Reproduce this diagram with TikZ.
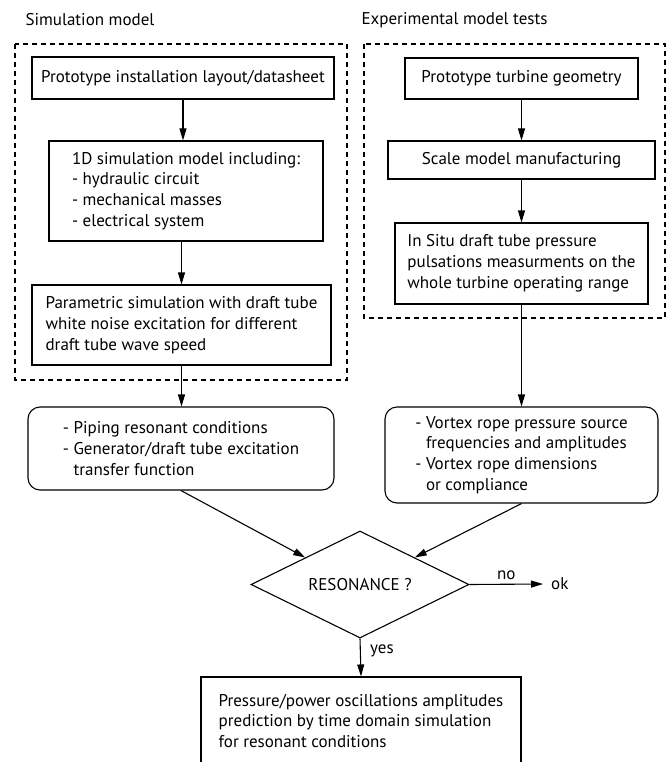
\documentclass[tikz,border=0pt]{standalone}
\usepackage{fontspec}
\setmainfont{PT Sans}
\usetikzlibrary{shapes.geometric,arrows.meta}
\begin{document}
\begin{tikzpicture}[x=1pt,y=-1pt,
  font=\fontsize{17}{20.8}\selectfont,
  box/.style={draw, line width=1.1pt, align=left, inner sep=0pt},
  rbox/.style={box, rounded corners=12pt},
  group/.style={draw, line width=1.1pt, dash pattern=on 5pt off 4pt},
  arr/.style={line width=1.1pt, -{Triangle[length=12pt,width=7pt]}}]
\path[use as bounding box, clip] (0,0) rectangle (669,762);
\node[anchor=west] (simtitle) at (22,20) {Simulation model};
\node[anchor=west] (exptitle) at (358,20) {Experimental model tests};
\draw[group] (15,44) rectangle (347,380);
\draw[group] (364,44) rectangle (665,318);
\node[box, minimum width=302pt, minimum height=42pt] (layout) at (183,78) {Prototype installation layout/datasheet};
\node[box, minimum width=274pt, minimum height=100pt] (onedim) at (186,191) {1D simulation model including:\\- hydraulic circuit\\- mechanical masses\\- electrical system};
\node[box, minimum width=299pt, minimum height=80pt] (param) at (181.5,325) {Parametric simulation with draft tube\\white noise excitation for different\\draft tube wave speed};
\node[rbox, minimum width=306pt, minimum height=83pt] (piping) at (181,448.5) {- Piping resonant conditions\\- Generator/draft tube excitation\\\phantom{-} transfer function};
\node[box, minimum width=233pt, minimum height=41pt] (turbgeom) at (521.5,78.5) {Prototype turbine geometry};
\node[box, minimum width=267pt, minimum height=38pt] (scale) at (521.5,160) {Scale model manufacturing};
\node[box, minimum width=253pt, minimum height=81pt] (insitu) at (521.5,263.5) {In Situ draft tube pressure\\pulsations measurments on the\\whole turbine operating range};
\node[rbox, minimum width=273pt, minimum height=96pt] (vortex) at (521.5,455) {- Vortex rope pressure source\\\phantom{-} frequencies and amplitudes\\- Vortex rope dimensions\\\phantom{-} or compliance};
\node[draw, line width=1.1pt, diamond, aspect=2, inner sep=0pt, minimum width=218pt, minimum height=107pt] (res) at (360,584.5) {RESONANCE ?};
\node[anchor=west, inner xsep=8pt] (ok) at (543,584) {ok};
\node[box, minimum width=320pt, minimum height=88pt] (predict) at (361,721) {Pressure/power oscillations amplitudes\\prediction by time domain simulation\\for resonant conditions};
\draw[arr] (layout.south) -- (layout.south |- onedim.north);
\draw[arr] (param.north |- onedim.south) -- (param.north);
\draw[arr] (param.south) -- (param.south |- piping.north);
\draw[arr] (turbgeom) -- (scale);
\draw[arr] (scale) -- (insitu);
\draw[arr] (insitu) -- (vortex);
\draw[arr] (piping.south) -- (res.north west);
\draw[arr] (vortex.south) -- (res.north east);
\draw[arr] (res.east) -- node[above=1pt] (no) {no} (ok.west);
\draw[arr] (res.south) -- node[pos=0.33, right=6pt] (yes) {yes} (predict.north);
\end{tikzpicture}
\end{document}
